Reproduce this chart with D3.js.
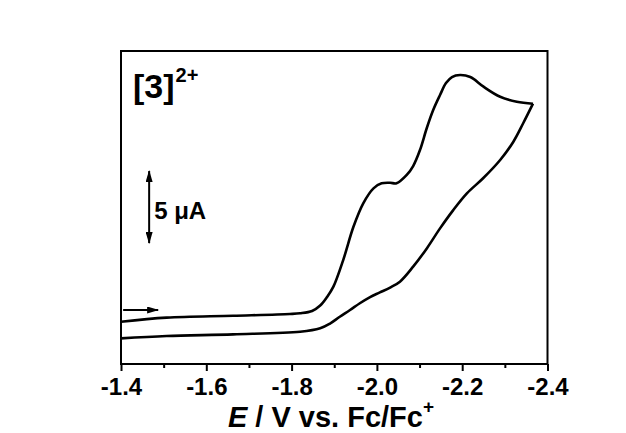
<!DOCTYPE html>
<html><head><meta charset="utf-8">
<script src="https://cdn.jsdelivr.net/npm/d3@7"></script>
<style>html,body{margin:0;padding:0;background:#fff;}svg{display:block;}</style>
</head><body>
<svg id="c" width="626" height="433"></svg>
<script>
// Forward sweep (E in V vs Fc/Fc+, current in µA, arbitrary offset)
const forwardE = [-1.40,-1.507,-1.663,-1.796,-1.820,-1.848,-1.867,-1.883,-1.898,-1.921,-1.945,-1.968,-1.992,-2.011,-2.031,-2.046,-2.070,-2.085,-2.101,-2.117,-2.132,-2.148,-2.162,-2.176,-2.195,-2.219,-2.250,-2.289,-2.328,-2.366];
const forwardI = [2.94,3.22,3.35,3.47,3.52,3.68,4.06,4.65,5.37,7.22,9.53,11.16,12.20,12.55,12.59,12.55,13.13,13.75,14.86,16.39,17.64,18.68,19.51,19.93,20.07,19.93,19.26,18.56,18.22,18.08];
// Reverse sweep
const reverseE = [-2.366,-2.343,-2.320,-2.289,-2.249,-2.211,-2.179,-2.148,-2.117,-2.085,-2.054,-2.031,-2.007,-1.984,-1.960,-1.937,-1.913,-1.890,-1.867,-1.820,-1.663,-1.507,-1.40];
const reverseI = [18.08,16.72,15.44,14.17,12.90,11.85,10.69,9.42,8.03,6.76,5.72,5.31,4.97,4.65,4.22,3.75,3.28,2.81,2.48,2.24,2.06,1.94,1.78];
const tickValues = [-1.4,-1.6,-1.8,-2.0,-2.2,-2.4];
const tickLabels = ["-1.4","-1.6","-1.8","-2.0","-2.2","-2.4"];
const minorTicks = [-1.5,-1.7,-1.9,-2.1,-2.3];
const xDomain = [-1.4,-2.4];
const yDomain = [0,21.74];
const scaleBarE = -1.466, scaleBarFrom = 8.4, scaleBarSize = 5;
const sweepArrowE = [-1.405,-1.487], sweepArrowI = 3.75;

const svg = d3.select("#c");
const m = {l:121, r:547.5, t:51, b:364};
const x = d3.scaleLinear().domain(xDomain).range([m.l, m.r]);
const y = d3.scaleLinear().domain(yDomain).range([m.b, m.t]);
const font = "Liberation Sans, Arial, sans-serif";

svg.append("rect").attr("width",626).attr("height",433).attr("fill","#fff");

// Frame
svg.append("rect").attr("x",m.l).attr("y",m.t).attr("width",m.r-m.l).attr("height",m.b-m.t)
  .attr("fill","none").attr("stroke","#000").attr("stroke-width",2);

// Bottom axis
const ax = svg.append("g").attr("transform",`translate(0,${m.b})`)
  .call(d3.axisBottom(x).tickValues(tickValues).tickSize(7).tickPadding(10)
    .tickFormat((d,i)=>tickLabels[i]));
ax.select(".domain").remove();
ax.selectAll(".tick line").attr("stroke","#000").attr("stroke-width",2);
ax.selectAll(".tick text").attr("font-family",font).attr("font-weight","bold")
  .attr("font-size",24).attr("fill","#000").attr("dy",null).attr("y",31);
const axm = svg.append("g").attr("transform",`translate(0,${m.b})`)
  .call(d3.axisBottom(x).tickValues(minorTicks).tickSize(4).tickFormat(""));
axm.select(".domain").remove();
axm.selectAll(".tick line").attr("stroke","#000").attr("stroke-width",2);

// Axis title
const t = svg.append("text").attr("x",331).attr("y",427).attr("text-anchor","middle")
  .attr("font-family",font).attr("font-weight","bold").attr("font-size",29).attr("fill","#000");
t.append("tspan").attr("font-style","italic").text("E");
t.append("tspan").text(" / V vs. Fc/Fc");
t.append("tspan").attr("font-size",19).attr("dy",-14).text("+");

// Curves
const line = d3.line().x(d=>x(d[0])).y(d=>y(d[1])).curve(d3.curveCatmullRom.alpha(0.5));
const fwd = forwardE.map((e,i)=>[e,forwardI[i]]);
const rev = reverseE.map((e,i)=>[e,reverseI[i]]);
svg.append("path").attr("d",line(fwd)).attr("fill","none").attr("stroke","#000").attr("stroke-width",2.6).attr("stroke-linejoin","round");
svg.append("path").attr("d",line(rev)).attr("fill","none").attr("stroke","#000").attr("stroke-width",2.6).attr("stroke-linejoin","round");

// Label [3]2+
const lab = svg.append("text").attr("x",133).attr("y",98).attr("font-family",font)
  .attr("font-weight","bold").attr("font-size",34).attr("fill","#000");
lab.append("tspan").text("[3]");
lab.append("tspan").attr("font-size",20).attr("dy",-16).attr("dx",1).text("2+");

// Arrow markers
const defs = svg.append("defs");
defs.append("marker").attr("id","ah").attr("viewBox","0 0 12 7").attr("refX",11).attr("refY",3.5)
  .attr("markerWidth",6).attr("markerHeight",3.5).attr("markerUnits","strokeWidth").attr("orient","auto-start-reverse")
  .append("path").attr("d","M0,0 L12,3.5 L0,7 Z").attr("fill","#000");

// Scale bar
svg.append("line").attr("x1",x(scaleBarE)).attr("x2",x(scaleBarE))
  .attr("y1",y(scaleBarFrom)).attr("y2",y(scaleBarFrom+scaleBarSize))
  .attr("stroke","#000").attr("stroke-width",2)
  .attr("marker-start","url(#ah)").attr("marker-end","url(#ah)");
svg.append("text").attr("x",x(scaleBarE)+5).attr("y",219).attr("font-family",font)
  .attr("font-weight","bold").attr("font-size",24).attr("fill","#000").text("5 μA");

// Sweep direction arrow
svg.append("line").attr("x1",x(sweepArrowE[0])).attr("x2",x(sweepArrowE[1]))
  .attr("y1",y(sweepArrowI)).attr("y2",y(sweepArrowI))
  .attr("stroke","#000").attr("stroke-width",2).attr("marker-end","url(#ah)");
</script>
</body></html>
